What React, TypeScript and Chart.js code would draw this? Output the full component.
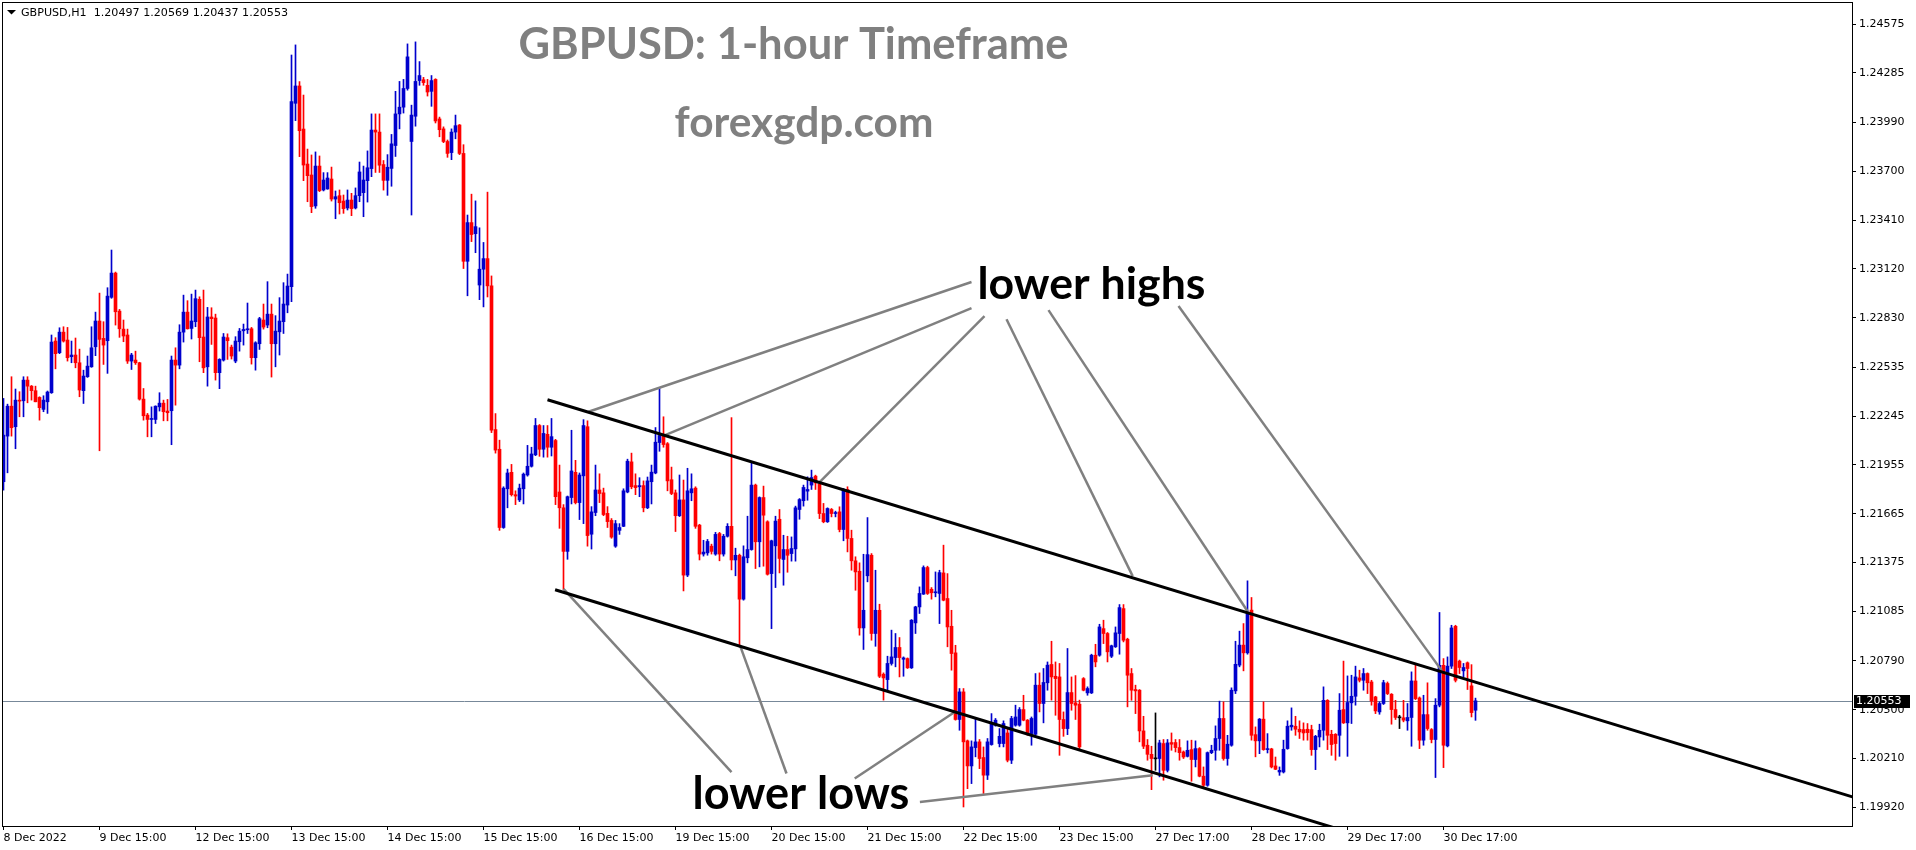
import React, { useEffect, useRef } from "react";
import { Chart, registerables } from "chart.js";

Chart.register(...registerables);

// ---------------- data ----------------
const symbolHeader = "GBPUSD,H1  1.20497 1.20569 1.20437 1.20553";
const chartTitle = "GBPUSD: 1-hour Timeframe";
const siteName = "forexgdp.com";

const timeLabels = [
  "8 Dec 2022", "9 Dec 15:00", "12 Dec 15:00", "13 Dec 15:00", "14 Dec 15:00", "15 Dec 15:00",
  "16 Dec 15:00", "19 Dec 15:00", "20 Dec 15:00", "21 Dec 15:00", "22 Dec 15:00", "23 Dec 15:00",
  "27 Dec 17:00", "28 Dec 17:00", "29 Dec 17:00", "30 Dec 17:00",
];
const timeLabelBars = [0, 24, 48, 72, 96, 120, 144, 168, 192, 216, 240, 264, 288, 312, 336, 360];

const priceTicks = [
  1.24575, 1.24285, 1.2399, 1.237, 1.2341, 1.2312, 1.2283, 1.22535, 1.22245,
  1.21955, 1.21665, 1.21375, 1.21085, 1.2079, 1.205, 1.2021, 1.1992,
];
const lastPrice = 1.20553;

const opens = [
  1.21855,1.22126,1.22304,1.22182,1.22340,1.22336,1.22459,1.22423,1.22396,1.22356,
  1.22285,1.22330,1.22384,1.22691,1.22622,1.22744,1.22697,1.22598,1.22608,1.22562,
  1.22396,1.22479,1.22538,1.22657,1.22810,1.22707,1.22693,1.22951,1.23095,1.22869,
  1.22762,1.22727,1.22572,1.22578,1.22562,1.22346,1.22251,1.22225,1.22225,1.22300,
  1.22322,1.22275,1.22277,1.22578,1.22548,1.22744,1.22863,1.22766,1.22806,1.22939,
  1.22715,1.22538,1.22834,1.22828,1.22503,1.22578,1.22711,1.22655,1.22572,1.22687,
  1.22752,1.22758,1.22764,1.22592,1.22675,1.22816,1.22786,1.22851,1.22675,1.22746,
  1.22806,1.22905,1.23014,1.24104,1.24207,1.23951,1.23743,1.23678,1.23494,1.23731,
  1.23589,1.23595,1.23654,1.23535,1.23555,1.23523,1.23482,1.23529,1.23482,1.23555,
  1.23573,1.23644,1.23716,1.23945,1.23933,1.23740,1.23646,1.23717,1.23853,1.24041,
  1.24081,1.24192,1.23877,1.24027,1.24239,1.24244,1.24211,1.24175,1.24246,1.24011,
  1.23952,1.23877,1.23811,1.23933,1.23975,1.23806,1.23165,1.23395,1.23329,1.23024,
  1.23118,1.23181,1.23019,1.22165,1.22048,1.21583,1.21813,1.21911,1.21778,1.21747,
  1.21813,1.21895,1.21947,1.22015,1.22189,1.22048,1.22137,1.22060,1.22100,1.21794,
  1.21700,1.21441,1.21761,1.21911,1.21731,1.21890,1.22182,1.21543,1.21672,1.21806,
  1.21789,1.21667,1.21625,1.21472,1.21566,1.21590,1.21794,1.21973,1.21832,1.21825,
  1.21832,1.21700,1.21855,1.21907,1.22088,1.22130,1.22081,1.21867,1.21789,1.21653,
  1.21747,1.21300,1.21789,1.21817,1.21597,1.21425,1.21432,1.21472,1.21425,1.21547,
  1.21425,1.21531,1.21590,1.21390,1.21418,1.21157,1.21403,1.21452,1.21835,1.21498,
  1.21761,1.21617,1.21309,1.21474,1.21632,1.21393,1.21452,1.21428,1.21456,1.21690,
  1.21742,1.21799,1.21835,1.21888,1.21841,1.21666,1.21617,1.21690,1.21666,1.21676,
  1.21571,1.21809,1.21518,1.21385,1.21323,1.20986,1.21296,1.21418,1.20953,1.21091,
  1.20711,1.20679,1.20775,1.20810,1.20870,1.20800,1.20804,1.20749,1.21016,1.21111,
  1.21187,1.21345,1.21216,1.21195,1.21191,1.21313,1.21161,1.20996,1.20838,1.20442,
  1.20606,1.20315,1.20166,1.20275,1.20309,1.20216,1.20111,1.20293,1.20408,1.20299,
  1.20299,1.20362,1.20200,1.20408,1.20408,1.20501,1.20438,1.20358,1.20354,1.20646,
  1.20537,1.20660,1.20769,1.20699,1.20695,1.20442,1.20388,1.20602,1.20541,1.20533,
  1.20685,1.20600,1.20600,1.20824,1.20824,1.20982,1.20953,1.20818,1.20874,1.20953,
  1.21101,1.20919,1.20715,1.20620,1.20616,1.20374,1.20289,1.20235,1.20208,1.20210,
  1.20299,1.20140,1.20305,1.20305,1.20275,1.20249,1.20223,1.20263,1.20204,1.20269,
  1.20105,1.20051,1.20245,1.20259,1.20329,1.20448,1.20210,1.20289,1.20612,1.20765,
  1.20884,1.20838,1.21092,1.20352,1.20315,1.20444,1.20263,1.20267,1.20166,1.20130,
  1.20130,1.20269,1.20398,1.20402,1.20384,1.20382,1.20384,1.20382,1.20263,1.20338,
  1.20378,1.20556,1.20354,1.20354,1.20348,1.20501,1.20422,1.20541,1.20580,1.20689,
  1.20675,1.20715,1.20665,1.20576,1.20487,1.20537,1.20656,1.20592,1.20501,1.20452,
  1.20452,1.20434,1.20454,1.20671,1.20570,1.20319,1.20471,1.20382,1.20323,1.20527,
  1.20764,1.20285,1.20759,1.20996,1.20789,1.20731,1.20779,1.20642,1.20497,
];

const highs = [
  1.22350,1.22316,1.22479,1.22406,1.22390,1.22479,1.22479,1.22427,1.22423,1.22360,
  1.22366,1.22394,1.22727,1.22711,1.22770,1.22776,1.22772,1.22691,1.22709,1.22643,
  1.22518,1.22602,1.22776,1.22863,1.22976,1.22806,1.23008,1.23232,1.23101,1.22879,
  1.22816,1.22762,1.22618,1.22631,1.22565,1.22409,1.22261,1.22300,1.22306,1.22384,
  1.22340,1.22344,1.22602,1.22651,1.22788,1.22964,1.22931,1.22970,1.22994,1.22954,
  1.22994,1.22891,1.22889,1.22851,1.22586,1.22736,1.22734,1.22667,1.22717,1.22766,
  1.22792,1.22917,1.22772,1.22687,1.22832,1.22911,1.23044,1.22911,1.22842,1.22949,
  1.23038,1.23089,1.24391,1.24451,1.24233,1.24153,1.23832,1.23797,1.23815,1.23791,
  1.23692,1.23692,1.23725,1.23583,1.23589,1.23559,1.23589,1.23569,1.23601,1.23755,
  1.23731,1.23821,1.24041,1.24041,1.24041,1.23764,1.23799,1.23919,1.24175,1.24234,
  1.24246,1.24457,1.24093,1.24469,1.24352,1.24258,1.24246,1.24269,1.24250,1.24022,
  1.23964,1.23886,1.23952,1.24034,1.23978,1.23858,1.23440,1.23564,1.23524,1.23364,
  1.23277,1.23576,1.23078,1.22260,1.22102,1.21825,1.21930,1.21958,1.21801,1.21841,
  1.21907,1.22071,1.22060,1.22231,1.22195,1.22189,1.22189,1.22231,1.22107,1.21954,
  1.21719,1.21770,1.22161,1.21982,1.21907,1.22224,1.22217,1.21707,1.21954,1.21902,
  1.21817,1.21707,1.21636,1.21625,1.21606,1.21813,1.21989,1.22025,1.21902,1.21879,
  1.21860,1.21883,1.21954,1.22177,1.22412,1.22241,1.22088,1.21942,1.21806,1.21895,
  1.21865,1.21935,1.21902,1.21825,1.21602,1.21507,1.21512,1.21484,1.21554,1.21554,
  1.21542,1.21606,1.22236,1.21460,1.21425,1.21474,1.21650,1.21967,1.21841,1.21765,
  1.21829,1.21623,1.21508,1.21650,1.21690,1.21537,1.21531,1.21527,1.21710,1.21755,
  1.21835,1.21884,1.21924,1.21894,1.21845,1.21726,1.21700,1.21696,1.21680,1.21706,
  1.21815,1.21825,1.21567,1.21409,1.21373,1.21424,1.21642,1.21428,1.21329,1.21127,
  1.20719,1.20818,1.20973,1.20953,1.20929,1.20814,1.20808,1.21036,1.21115,1.21230,
  1.21355,1.21353,1.21226,1.21319,1.21329,1.21478,1.21309,1.21091,1.20883,1.20626,
  1.20626,1.20320,1.20315,1.20448,1.20323,1.20279,1.20329,1.20477,1.20448,1.20388,
  1.20434,1.20388,1.20461,1.20527,1.20513,1.20586,1.20442,1.20457,1.20715,1.20719,
  1.20745,1.20784,1.20907,1.20784,1.20775,1.20487,1.20864,1.20695,1.20703,1.20557,
  1.20691,1.20636,1.20830,1.20889,1.21008,1.21032,1.20959,1.20884,1.20992,1.21125,
  1.21125,1.20925,1.20745,1.20646,1.20620,1.20461,1.20323,1.20283,1.20481,1.20319,
  1.20323,1.20323,1.20362,1.20323,1.20323,1.20255,1.20315,1.20319,1.20315,1.20275,
  1.20160,1.20249,1.20289,1.20404,1.20551,1.20547,1.20348,1.20630,1.20907,1.20967,
  1.21012,1.21266,1.21167,1.20398,1.20448,1.20547,1.20358,1.20271,1.20219,1.20160,
  1.20319,1.20434,1.20511,1.20461,1.20434,1.20422,1.20418,1.20408,1.20348,1.20414,
  1.20636,1.20560,1.20378,1.20358,1.20596,1.20789,1.20701,1.20705,1.20759,1.20735,
  1.20745,1.20719,1.20675,1.20580,1.20547,1.20675,1.20665,1.20596,1.20556,1.20467,
  1.20556,1.20537,1.20725,1.20764,1.20576,1.20586,1.20660,1.20388,1.20566,1.21078,
  1.20804,1.20814,1.21002,1.21002,1.20795,1.20775,1.20784,1.20768,1.20569,
];

const lows = [
  1.21805,1.21908,1.22126,1.22051,1.22241,1.22241,1.22324,1.22340,1.22330,1.22221,
  1.22271,1.22261,1.22380,1.22526,1.22616,1.22685,1.22572,1.22562,1.22532,1.22360,
  1.22320,1.22475,1.22535,1.22604,1.22039,1.22552,1.22499,1.22945,1.22786,1.22713,
  1.22687,1.22558,1.22522,1.22552,1.22340,1.22221,1.22122,1.22122,1.22201,1.22275,
  1.22217,1.22217,1.22075,1.22310,1.22526,1.22685,1.22762,1.22703,1.22776,1.22568,
  1.22503,1.22423,1.22671,1.22459,1.22408,1.22572,1.22582,1.22584,1.22562,1.22631,
  1.22667,1.22736,1.22554,1.22518,1.22641,1.22762,1.22770,1.22477,1.22538,1.22608,
  1.22736,1.22859,1.22925,1.24001,1.23787,1.23644,1.23519,1.23454,1.23480,1.23579,
  1.23583,1.23593,1.23523,1.23418,1.23446,1.23450,1.23470,1.23436,1.23476,1.23519,
  1.23430,1.23517,1.23668,1.23693,1.23693,1.23588,1.23557,1.23611,1.23788,1.23952,
  1.24046,1.24182,1.23440,1.23968,1.24211,1.24211,1.24147,1.24086,1.23987,1.23905,
  1.23870,1.23783,1.23769,1.23893,1.23799,1.23122,1.22960,1.23282,1.23216,1.22937,
  1.22894,1.22953,1.22147,1.22025,1.21566,1.21578,1.21700,1.21770,1.21719,1.21737,
  1.21723,1.21888,1.21942,1.22010,1.22006,1.22001,1.22001,1.22008,1.21719,1.21578,
  1.21213,1.21394,1.21723,1.21723,1.21630,1.21606,1.21472,1.21455,1.21653,1.21731,
  1.21653,1.21583,1.21519,1.21465,1.21542,1.21588,1.21789,1.21813,1.21778,1.21766,
  1.21676,1.21695,1.21723,1.21902,1.22036,1.22060,1.21801,1.21778,1.21559,1.21648,
  1.21206,1.21291,1.21742,1.21578,1.21390,1.21413,1.21418,1.21425,1.21418,1.21385,
  1.21413,1.21526,1.21331,1.21296,1.20883,1.21151,1.21373,1.21448,1.21339,1.21349,
  1.21353,1.21300,1.20982,1.21226,1.21313,1.21240,1.21317,1.21383,1.21383,1.21632,
  1.21710,1.21745,1.21809,1.21809,1.21636,1.21611,1.21613,1.21646,1.21646,1.21557,
  1.21504,1.21438,1.21329,1.21210,1.20943,1.20858,1.21260,1.20913,1.20877,1.20691,
  1.20557,1.20616,1.20765,1.20755,1.20695,1.20699,1.20745,1.20745,1.20953,1.21072,
  1.21185,1.21185,1.21157,1.21171,1.21012,1.21147,1.20874,1.20735,1.20438,1.20378,
  1.19922,1.20031,1.20061,1.20220,1.20150,1.20002,1.20085,1.20289,1.20402,1.20279,
  1.20279,1.20190,1.20180,1.20402,1.20402,1.20434,1.20348,1.20289,1.20348,1.20487,
  1.20422,1.20616,1.20557,1.20467,1.20229,1.20342,1.20352,1.20497,1.20442,1.20269,
  1.20612,1.20586,1.20596,1.20755,1.20818,1.20893,1.20784,1.20810,1.20870,1.20830,
  1.20903,1.20517,1.20556,1.20477,1.20309,1.20269,1.20200,1.20025,1.20140,1.20101,
  1.20081,1.20130,1.20259,1.20249,1.20200,1.20210,1.20219,1.20075,1.20160,1.20101,
  1.20031,1.20045,1.20239,1.20200,1.20259,1.20200,1.20170,1.20283,1.20596,1.20755,
  1.20731,1.20830,1.20319,1.20220,1.20239,1.20259,1.20243,1.20154,1.20144,1.20110,
  1.20124,1.20265,1.20378,1.20348,1.20329,1.20319,1.20319,1.20229,1.20144,1.20279,
  1.20319,1.20263,1.20229,1.20200,1.20223,1.20418,1.20223,1.20418,1.20527,1.20665,
  1.20616,1.20596,1.20527,1.20477,1.20473,1.20531,1.20590,1.20414,1.20442,1.20388,
  1.20428,1.20378,1.20283,1.20560,1.20269,1.20289,1.20378,1.20303,1.20097,1.20517,
  1.20156,1.20279,1.20745,1.20665,1.20715,1.20695,1.20620,1.20457,1.20437,
];

const closes = [
  1.22132,1.22304,1.22176,1.22340,1.22334,1.22459,1.22423,1.22396,1.22330,1.22295,
  1.22340,1.22388,1.22685,1.22616,1.22744,1.22691,1.22592,1.22608,1.22562,1.22400,
  1.22483,1.22542,1.22651,1.22810,1.22701,1.22667,1.22958,1.23095,1.22865,1.22764,
  1.22721,1.22572,1.22608,1.22562,1.22346,1.22247,1.22225,1.22229,1.22304,1.22322,
  1.22271,1.22265,1.22578,1.22548,1.22744,1.22863,1.22764,1.22810,1.22943,1.22711,
  1.22532,1.22834,1.22824,1.22503,1.22582,1.22715,1.22693,1.22602,1.22691,1.22750,
  1.22760,1.22764,1.22592,1.22681,1.22824,1.22774,1.22851,1.22675,1.22750,1.22810,
  1.22911,1.23018,1.24114,1.24207,1.23941,1.23737,1.23674,1.23490,1.23731,1.23585,
  1.23648,1.23660,1.23535,1.23549,1.23513,1.23478,1.23529,1.23478,1.23555,1.23696,
  1.23648,1.23721,1.23945,1.23933,1.23736,1.23646,1.23724,1.23863,1.24041,1.24081,
  1.24192,1.24380,1.24034,1.24234,1.24269,1.24227,1.24171,1.24239,1.23999,1.23947,
  1.23877,1.23806,1.23933,1.23971,1.23806,1.23165,1.23395,1.23324,1.23371,1.23118,
  1.23181,1.23019,1.22161,1.22043,1.21583,1.21817,1.21907,1.21778,1.21770,1.21817,
  1.21900,1.21947,1.22020,1.22189,1.22048,1.22142,1.22060,1.22123,1.21766,1.21700,
  1.21441,1.21766,1.21919,1.21731,1.21895,1.22189,1.21535,1.21676,1.21806,1.21785,
  1.21660,1.21618,1.21526,1.21606,1.21583,1.21801,1.21977,1.21825,1.21820,1.21832,
  1.21700,1.21860,1.21912,1.22090,1.22130,1.22076,1.21860,1.21785,1.21653,1.21747,
  1.21300,1.21801,1.21813,1.21590,1.21425,1.21437,1.21500,1.21441,1.21542,1.21425,
  1.21531,1.21590,1.21390,1.21418,1.21157,1.21409,1.21452,1.21835,1.21498,1.21761,
  1.21656,1.21305,1.21504,1.21621,1.21399,1.21452,1.21418,1.21458,1.21700,1.21749,
  1.21821,1.21809,1.21880,1.21848,1.21666,1.21617,1.21696,1.21666,1.21672,1.21571,
  1.21809,1.21518,1.21385,1.21319,1.20986,1.21091,1.21422,1.20953,1.21091,1.20699,
  1.20689,1.20775,1.20814,1.20870,1.20810,1.20808,1.20749,1.21032,1.21111,1.21191,
  1.21345,1.21191,1.21195,1.21200,1.21315,1.21151,1.20992,1.20834,1.20442,1.20606,
  1.20309,1.20166,1.20279,1.20309,1.20210,1.20111,1.20309,1.20422,1.20438,1.20342,
  1.20418,1.20200,1.20448,1.20457,1.20501,1.20438,1.20358,1.20448,1.20646,1.20537,
  1.20662,1.20765,1.20695,1.20685,1.20442,1.20388,1.20602,1.20537,1.20527,1.20279,
  1.20616,1.20626,1.20824,1.20784,1.20992,1.20953,1.20844,1.20880,1.20957,1.21107,
  1.20913,1.20705,1.20616,1.20612,1.20374,1.20283,1.20235,1.20210,1.20208,1.20303,
  1.20140,1.20303,1.20295,1.20275,1.20245,1.20219,1.20259,1.20204,1.20269,1.20105,
  1.20051,1.20245,1.20259,1.20329,1.20448,1.20210,1.20295,1.20616,1.20770,1.20884,
  1.20838,1.21072,1.20348,1.20315,1.20444,1.20263,1.20269,1.20160,1.20146,1.20140,
  1.20265,1.20402,1.20408,1.20384,1.20368,1.20362,1.20364,1.20263,1.20342,1.20378,
  1.20556,1.20348,1.20293,1.20299,1.20497,1.20422,1.20543,1.20580,1.20695,1.20675,
  1.20715,1.20660,1.20552,1.20493,1.20537,1.20661,1.20596,1.20501,1.20454,1.20452,
  1.20438,1.20454,1.20671,1.20566,1.20319,1.20471,1.20388,1.20323,1.20527,1.20764,
  1.20289,1.20759,1.20986,1.20675,1.20751,1.20751,1.20745,1.20483,1.20553,
];

// trend lines, as (bar index, price)
const upperChannel = [{ x: 136, y: 1.22342 }, { x: 462.25, y: 1.19982 }];
const lowerChannel = [{ x: 137.9, y: 1.21213 }, { x: 340, y: 1.19745 }];
const lowerHighsPointers = [
  [{ x: 242, y: 1.23042 }, { x: 146.25, y: 1.22271 }],
  [{ x: 242, y: 1.22887 }, { x: 165.25, y: 1.2213 }],
  [{ x: 245.25, y: 1.22839 }, { x: 204.1, y: 1.21854 }],
  [{ x: 250.75, y: 1.22821 }, { x: 282.3, y: 1.21294 }],
  [{ x: 261.25, y: 1.22875 }, { x: 311.1, y: 1.21082 }],
  [{ x: 293.75, y: 1.22899 }, { x: 359.6, y: 1.20731 }],
];
const lowerLowsPointers = [
  [{ x: 182, y: 1.20129 }, { x: 140, y: 1.21218 }],
  [{ x: 195.75, y: 1.20121 }, { x: 184.1, y: 1.20884 }],
  [{ x: 212.8, y: 1.20091 }, { x: 237.8, y: 1.20487 }],
  [{ x: 229.1, y: 1.19952 }, { x: 287.3, y: 1.20111 }],
];
const lowerHighsLabel = { text: "lower highs", x: 243.5, y: 1.2294, width: 228 };
const lowerLowsLabel = { text: "lower lows", x: 172.25, y: 1.19908, width: 217 };

// ---------------- styles ----------------
const BULL = "#0000CD";
const BEAR = "#FF0000";
const DOJI = "#000000";
const POINTER = "#808080";
const AXIS_FONT = "'DejaVu Sans'";

function drawFitted(ctx: any, text: string, weight: string, family: string, targetW: number, x: number, y: number, align: string, baseline: string, color: string) {
  ctx.font = `${weight} 100px ${family}`;
  const w = ctx.measureText(text).width;
  const size = (100 * targetW) / w;
  ctx.font = `${weight} ${size.toFixed(2)}px ${family}`;
  ctx.textAlign = align;
  ctx.textBaseline = baseline;
  ctx.fillStyle = color;
  ctx.fillText(text, x, y);
}

const overlayPlugin = {
  id: "overlay",
  beforeDatasetsDraw(chart: any) {
    const { ctx, chartArea: a, scales } = chart;
    const py = Math.round(scales.y.getPixelForValue(lastPrice)) + 0.5;
    ctx.save();
    ctx.strokeStyle = "#778899";
    ctx.lineWidth = 1;
    ctx.beginPath();
    ctx.moveTo(a.left, py);
    ctx.lineTo(a.right, py);
    ctx.stroke();
    ctx.restore();
  },
  afterDraw(chart: any) {
    const { ctx, chartArea: a, scales } = chart;
    const { x, y } = scales;
    ctx.save();
    // frame
    ctx.strokeStyle = "#000";
    ctx.lineWidth = 1;
    ctx.strokeRect(a.left + 0.5, a.top + 0.5, a.right - a.left, a.bottom - a.top);

    // current price tag
    const py = Math.round(y.getPixelForValue(lastPrice));
    ctx.fillStyle = "#000";
    ctx.fillRect(a.right + 2, py - 6, 56, 13);
    ctx.fillStyle = "#fff";
    ctx.font = `11px ${AXIS_FONT}`;
    ctx.textBaseline = "middle";
    ctx.textAlign = "left";
    ctx.fillText(lastPrice.toFixed(5), a.right + 4, py + 0.5);

    // header
    ctx.fillStyle = "#000";
    ctx.beginPath();
    ctx.moveTo(7, 10);
    ctx.lineTo(16, 10);
    ctx.lineTo(11.5, 14.5);
    ctx.closePath();
    ctx.fill();
    drawFitted(ctx, symbolHeader, "normal", AXIS_FONT, 267, 21, 13, "left", "middle", "#000");

    // titles
    drawFitted(ctx, chartTitle, "bold", "Lato", 550, 793.5, 59, "center", "alphabetic", "#808080");
    drawFitted(ctx, siteName, "bold", "Lato", 259, 804, 137, "center", "alphabetic", "#808080");

    // annotation labels
    for (const lab of [lowerHighsLabel, lowerLowsLabel]) {
      drawFitted(ctx, lab.text, "bold", "Lato", lab.width, x.getPixelForValue(lab.x), y.getPixelForValue(lab.y), "left", "alphabetic", "#000");
    }
    ctx.restore();
  },
};

function lineDataset(data: any[], color: string, width: number) {
  return {
    type: "line",
    data,
    borderColor: color,
    borderWidth: width,
    pointRadius: 0,
    fill: false,
    tension: 0,
    order: 0,
    clip: 0,
  };
}

export default function App() {
  const ref = useRef<HTMLCanvasElement>(null);

  useEffect(() => {
    document.body.style.margin = "0";
    const n = closes.length;
    const idx = Array.from({ length: n }, (_, i) => i);
    const colors = idx.map((i) => (closes[i] > opens[i] ? BULL : closes[i] < opens[i] ? BEAR : DOJI));
    const wickData = idx.map((i) => ({ x: i, y: [lows[i], highs[i]] }));
    const bodyData = idx.map((i) => ({ x: i, y: [opens[i], closes[i]] }));

    const datasets: any[] = [
      lineDataset(upperChannel, "#000", 3),
      lineDataset(lowerChannel, "#000", 3),
      ...lowerHighsPointers.map((d) => lineDataset(d, POINTER, 2.5)),
      ...lowerLowsPointers.map((d) => lineDataset(d, POINTER, 2.5)),
      {
        type: "bar",
        data: bodyData,
        backgroundColor: colors,
        barThickness: 3,
        minBarLength: 1,
        grouped: false,
        borderWidth: 0,
        order: 1,
        clip: 0,
      },
      {
        type: "bar",
        data: wickData,
        backgroundColor: colors,
        barThickness: 1,
        grouped: false,
        borderWidth: 0,
        order: 2,
        clip: 0,
      },
    ];

    const chart = new Chart(ref.current as HTMLCanvasElement, {
      type: "bar",
      data: { datasets },
      plugins: [overlayPlugin],
      options: {
        responsive: false,
        maintainAspectRatio: false,
        animation: false,
        events: [],
        layout: { padding: { left: 2, top: 2, right: 0, bottom: 0 } },
        plugins: { legend: { display: false }, tooltip: { enabled: false }, title: { display: false } },
        scales: {
          x: {
            type: "linear",
            position: "bottom",
            min: -0.375,
            max: 462.125,
            offset: false,
            afterBuildTicks: (s: any) => {
              s.ticks = timeLabelBars.map((v) => ({ value: v }));
            },
            afterFit: (s: any) => {
              s.height = 24;
              s.paddingLeft = 0;
              s.paddingRight = 0;
              s.paddingTop = 0;
              s.paddingBottom = 0;
            },
            ticks: {
              autoSkip: false,
              maxRotation: 0,
              minRotation: 0,
              align: "start",
              padding: 2,
              color: "#000",
              font: { family: AXIS_FONT, size: 11 },
              callback: (v: any) => {
                const k = timeLabelBars.indexOf(Number(v));
                return k >= 0 ? timeLabels[k] : "";
              },
            },
            grid: { display: true, offset: false, drawOnChartArea: false, drawTicks: true, tickLength: 4, color: "#000" },
            border: { display: false },
          },
          y: {
            type: "linear",
            position: "right",
            min: 1.19809,
            max: 1.24706,
            afterBuildTicks: (s: any) => {
              s.ticks = priceTicks.map((v) => ({ value: v }));
            },
            afterFit: (s: any) => {
              s.width = 64;
              s.paddingLeft = 0;
              s.paddingRight = 0;
              s.paddingTop = 0;
              s.paddingBottom = 0;
            },
            ticks: {
              autoSkip: false,
              padding: 3,
              color: "#000",
              font: { family: AXIS_FONT, size: 11 },
              callback: (v: any) => Number(v).toFixed(5),
            },
            grid: { display: true, drawOnChartArea: false, drawTicks: true, tickLength: 4, color: "#000" },
            border: { display: false },
          },
        },
      } as any,
    } as any);

    return () => chart.destroy();
  }, []);

  return (
    <div style={{ position: "fixed", left: 0, top: 0, width: 1916, height: 850, background: "#fff" }}>
      <canvas ref={ref} width={1916} height={850} style={{ display: "block", width: 1916, height: 850 }} />
    </div>
  );
}
